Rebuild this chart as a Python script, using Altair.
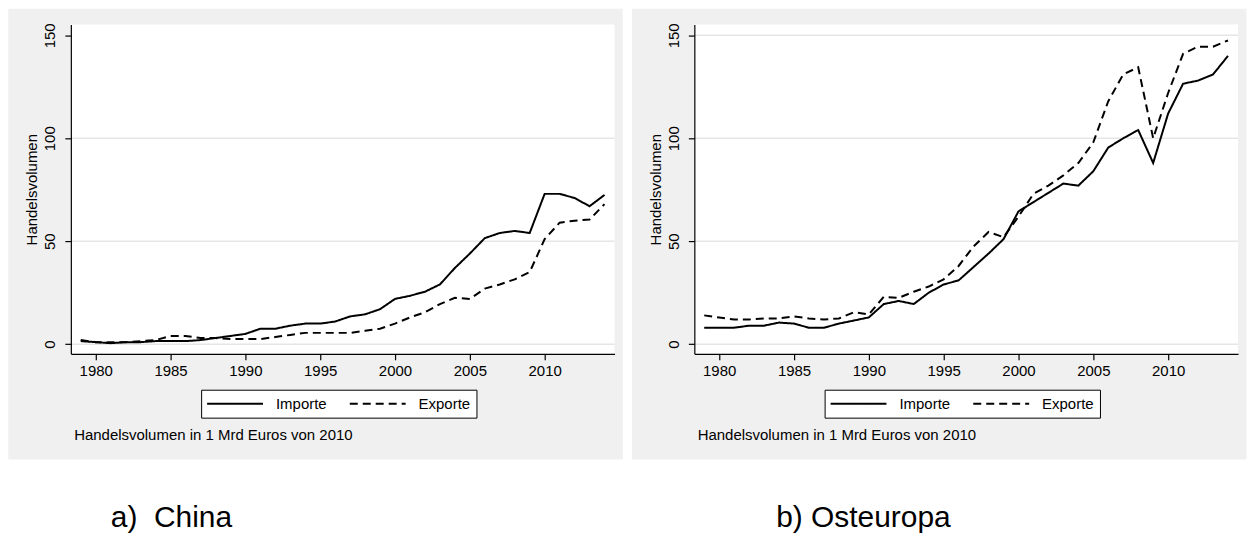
import altair as alt
import pandas as pd

years = list(range(1979, 2015))

china_importe = [1.5, 1, 0.5, 1, 1, 1.5, 1.5, 1.5, 2, 3, 4, 5, 7.5, 7.5, 9, 10, 10, 11,
                 13.5, 14.5, 17, 22, 23.5, 25.5, 29, 37, 44, 51.5, 54, 55, 54, 73, 73,
                 71, 67, 72.5]
china_exporte = [2, 1, 1, 1, 1.5, 2, 4, 4, 3, 3, 2.5, 2.5, 2.5, 3.5, 4.5, 5.5, 5.5, 5.5,
                 5.5, 6.5, 7.5, 10, 13, 15.5, 19.5, 22.5, 22, 27, 29, 31.5, 35, 51, 59,
                 60, 60.5, 68]
ost_importe = [8, 8, 8, 9, 9, 10.5, 10, 8, 8, 10, 11.5, 13, 19.5, 21, 19.5, 25, 29, 31,
               37.5, 44, 51, 64.5, 69, 73.5, 78, 77, 84, 95.5, 100, 104, 88, 112, 126.5,
               128, 131, 140]
ost_exporte = [14, 13, 12, 12, 12.5, 12.5, 13.5, 12.5, 12, 12.5, 15.5, 14.5, 23, 22.5,
               25.5, 28, 31.5, 38, 47.5, 54.5, 52, 62, 73, 77, 82, 88, 98, 118, 131,
               134.5, 100, 122, 141, 144.5, 144.5, 147.5]

series = ["Importe", "Exporte"]
x_ticks = [1980, 1985, 1990, 1995, 2000, 2005, 2010]
y_ticks = [0, 50, 100, 150]
note = "Handelsvolumen in 1 Mrd Euros von 2010"
y_title = "Handelsvolumen"

FONT = "Liberation Sans"
W, H = 545, 330
X_DOMAIN = [1978.34, 2014.67]
Y_DOMAIN = [-4.66, 155.2]
GRAY = "#f0f0f0"


def panel(imp, exp, title, title_dx, grid_vals, gx0, gx1):
    df = pd.DataFrame({
        "Jahr": years * 2,
        "Wert": imp + exp,
        "Serie": [series[0]] * len(years) + [series[1]] * len(years),
    })
    one = pd.DataFrame({"k": [0]})
    yscale = alt.Scale(domain=Y_DOMAIN, nice=False, zero=False)
    yaxis = alt.Axis(values=y_ticks, labelAngle=270, labelAlign="center",
                     labelBaseline="bottom", labelFont=FONT, labelFontSize=15,
                     labelColor="black", labelPadding=7, labelFlush=False,
                     title=y_title, titleFont=FONT, titleFontSize=15,
                     titleFontWeight="normal", titleColor="black",
                     titlePadding=3, tickSize=6, tickColor="black",
                     domainColor="black", domainWidth=1.2, tickWidth=1.2,
                     grid=False, zindex=1)

    bg = alt.Chart(one).mark_rect(color=GRAY).encode(
        x=alt.value(gx0), x2=alt.value(gx1), y=alt.value(-16), y2=alt.value(436))
    plotbg = alt.Chart(one).mark_rect(color="white").encode(
        x=alt.value(0), x2=alt.value(W), y=alt.value(0), y2=alt.value(H))
    grid = alt.Chart(pd.DataFrame({"Wert": grid_vals})).mark_rule(
        color="#e6e6e6", strokeWidth=1.6).encode(
        y=alt.Y("Wert:Q", scale=yscale, axis=yaxis))

    lines = alt.Chart(df).mark_line(color="black", strokeWidth=2).encode(
        x=alt.X("Jahr:Q",
                scale=alt.Scale(domain=X_DOMAIN, nice=False, zero=False),
                axis=alt.Axis(values=x_ticks, format="d", title=note,
                              titleX=2.8, titleY=86, titleAlign="left",
                              titleAnchor="start", titleBaseline="alphabetic",
                              titleFont=FONT, titleFontSize=15, titleFontWeight="normal",
                              titleColor="black", labelFont=FONT, labelFontSize=15,
                              labelColor="black", labelPadding=4, labelFlush=False,
                              tickSize=6, tickColor="black", domainColor="black",
                              domainWidth=1.2, tickWidth=1.2, grid=False, zindex=1)),
        y=alt.Y("Wert:Q", scale=yscale, axis=yaxis),
        strokeDash=alt.StrokeDash(
            "Serie:N",
            scale=alt.Scale(domain=series, range=[[1, 0], [8, 5]]),
            legend=alt.Legend(title=None, orient="none", legendX=130.6, legendY=366,
                              direction="horizontal", fillColor="white",
                              strokeColor="black", padding=6,
                              symbolType="M-4,0H4", symbolSize=196, symbolOffset=20,
                              labelOffset=33, columnPadding=19,
                              symbolStrokeColor="black", symbolStrokeWidth=2,
                              labelFont=FONT, labelFontSize=15, labelColor="black")),
    )

    return alt.layer(bg, plotbg, grid, lines).properties(
        width=W, height=H,
        title=alt.TitleParams(title, orient="bottom", anchor="start", frame="group",
                              dx=title_dx, offset=68, fontSize=30, font=FONT,
                              fontWeight="normal", color="black",
                              baseline="alphabetic"))


left = panel(china_importe, china_exporte, "a)\u00a0\u00a0China", 40, [0, 50, 100],
             -62.7, 553.3)
right = panel(ost_importe, ost_exporte, "b) Osteuropa", 82, [0, 50, 100, 150],
              -62.5, 553.5)

chart = alt.hconcat(left, right, spacing=8).resolve_scale(
    strokeDash="independent").resolve_legend(strokeDash="independent").properties(
    padding=0, background="white").configure_view(stroke=None)

chart.save("out.html", embed_options={"renderer": "svg", "actions": False})
